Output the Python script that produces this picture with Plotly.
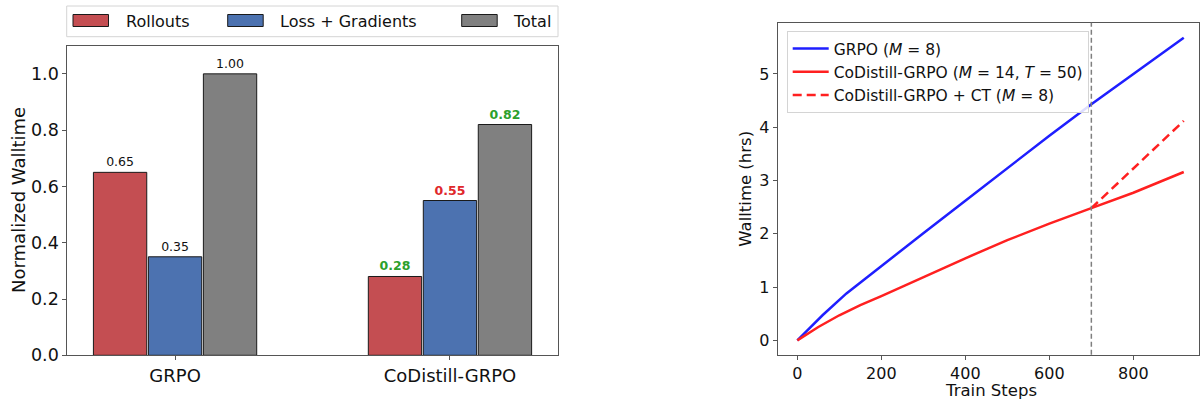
import plotly.graph_objects as go

# ---- Left panel: normalized walltime breakdown ----
categories = ["GRPO", "CoDistill-GRPO"]
rollouts = [0.65, 0.28]
loss_grad = [0.35, 0.55]
total = [1.00, 0.82]

GREEN = "#2ca02c"
RED_TXT = "#e0282b"
rollouts_label_colors = ["#111111", GREEN]
loss_label_colors = ["#111111", RED_TXT]
total_label_colors = ["#111111", GREEN]
label_templates = ["%{y:.2f}", "<b>%{y:.2f}</b>"]

# ---- Right panel: walltime vs train steps ----
grpo_steps = [0, 60, 117, 200, 300, 400, 500, 600, 700, 800, 920]
grpo_hours = [0.0, 0.47, 0.88, 1.40, 2.01, 2.62, 3.23, 3.84, 4.43, 5.00, 5.68]

codistill_steps = [0, 50, 100, 150, 200, 300, 400, 500, 600, 700, 800, 920]
codistill_hours = [0.0, 0.25, 0.47, 0.66, 0.83, 1.19, 1.54, 1.88, 2.19, 2.48, 2.77, 3.16]

ct_steps = [700, 920]
ct_hours = [2.48, 4.12]

CT_STEP = 700

FONT = "DejaVu Sans"
AX_COLOR = "#555555"
W, H = 1200, 403


def px_x(p):
    return p / W


def px_y(p):
    return 1 - p / H


fig = go.Figure()

bar_specs = [
    ("Rollouts", rollouts, "#C44E52", rollouts_label_colors),
    ("Loss + Gradients", loss_grad, "#4C72B0", loss_label_colors),
    ("Total", total, "#808080", total_label_colors),
]
for name, vals, color, label_colors in bar_specs:
    fig.add_trace(go.Bar(
        x=categories, y=vals, name=name,
        marker=dict(color=color, line=dict(color="#1a1a1a", width=1)),
        texttemplate=label_templates, textposition="outside",
        textfont=dict(family=FONT, size=12.5, color=label_colors),
        cliponaxis=False, showlegend=False,
        xaxis="x", yaxis="y",
    ))

line_specs = [
    ("GRPO (<i>M</i> = 8)", grpo_steps, grpo_hours, "#1f1fff", "solid"),
    ("CoDistill-GRPO (<i>M</i> = 14, <i>T</i> = 50)", codistill_steps, codistill_hours, "#ff2020", "solid"),
    ("CoDistill-GRPO + CT (<i>M</i> = 8)", ct_steps, ct_hours, "#ff2020", "9px,5px"),
]
for name, xs, ys, color, dash in line_specs:
    fig.add_trace(go.Scatter(
        x=xs, y=ys, name=name, mode="lines",
        line=dict(color=color, width=2.5, dash=dash),
        xaxis="x2", yaxis="y2", legend="legend2",
    ))

fig.add_shape(type="line", xref="x2", yref="y2 domain",
              x0=CT_STEP, x1=CT_STEP, y0=0, y1=1,
              line=dict(color="#7f7f7f", width=1.5, dash="5px,3px"))

# Legend for the bar panel: framed row of swatches above the axes
fig.add_shape(type="rect", xref="paper", yref="paper",
              x0=px_x(66.7), x1=px_x(558), y0=px_y(36.7), y1=px_y(6),
              line=dict(color="#d4d4d4", width=1), fillcolor="white", layer="below")
legend_slots = [(73, 124), (227.7, 278), (461.7, 510.7)]
annotations = []
for (name, _, color, _), (sx, tx) in zip(bar_specs, legend_slots):
    fig.add_shape(type="rect", xref="paper", yref="paper",
                  x0=px_x(sx), x1=px_x(sx + 35.5), y0=px_y(26.5), y1=px_y(14.5),
                  line=dict(color="#1a1a1a", width=1), fillcolor=color)
    annotations.append(dict(text=name, x=px_x(tx), y=px_y(21), xref="paper", yref="paper",
                            xanchor="left", yanchor="middle", showarrow=False,
                            font=dict(size=16)))

axis_common = dict(
    showline=True, mirror=True, linecolor=AX_COLOR, linewidth=1,
    ticks="outside", tickcolor=AX_COLOR, ticklen=4, tickwidth=1,
    showgrid=False, zeroline=False, automargin=False,
)

annotations += [
    dict(text="Normalized Walltime", x=px_x(18.5), y=px_y(200.5), xref="paper", yref="paper",
         xanchor="center", yanchor="middle", textangle=-90, showarrow=False, font=dict(size=18)),
    dict(text="Walltime (hrs)", x=px_x(746), y=px_y(188.7), xref="paper", yref="paper",
         xanchor="center", yanchor="middle", textangle=-90, showarrow=False, font=dict(size=16.5)),
    dict(text="Train Steps", x=px_x(990.7), y=px_y(390), xref="paper", yref="paper",
         xanchor="center", yanchor="middle", showarrow=False, font=dict(size=16.5)),
]

fig.update_layout(
    width=W, height=H,
    margin=dict(l=0, r=0, t=0, b=0),
    paper_bgcolor="white", plot_bgcolor="white",
    font=dict(family=FONT, color="#111111"),
    barmode="group", bargap=0.4, bargroupgap=0.03,
    xaxis=dict(axis_common, domain=[px_x(67.3), px_x(558)], type="category",
               range=[-0.392, 1.393], tickfont=dict(size=18), anchor="y"),
    yaxis=dict(axis_common, domain=[px_y(355.3), px_y(45.7)], range=[0, 1.1],
               tickvals=[0, 0.2, 0.4, 0.6, 0.8, 1.0], tickformat=".1f",
               tickfont=dict(size=17.5), anchor="x"),
    xaxis2=dict(axis_common, domain=[px_x(777.7), px_x(1199.3)],
                range=[-46.7, 957], tickvals=[0, 200, 400, 600, 800],
                tickfont=dict(size=16), anchor="y2"),
    yaxis2=dict(axis_common, domain=[px_y(354.7), px_y(22.7)],
                range=[-0.27, 5.962], tickvals=[0, 1, 2, 3, 4, 5],
                tickfont=dict(size=16), anchor="x2"),
    legend2=dict(
        x=px_x(786.7), xanchor="left", y=px_y(31), yanchor="top",
        font=dict(family=FONT, size=15.5), bordercolor="#d4d4d4", borderwidth=1,
        bgcolor="rgba(255,255,255,0.85)", tracegroupgap=0, itemwidth=36,
    ),
    annotations=annotations,
)

fig.write_html("out.html")
